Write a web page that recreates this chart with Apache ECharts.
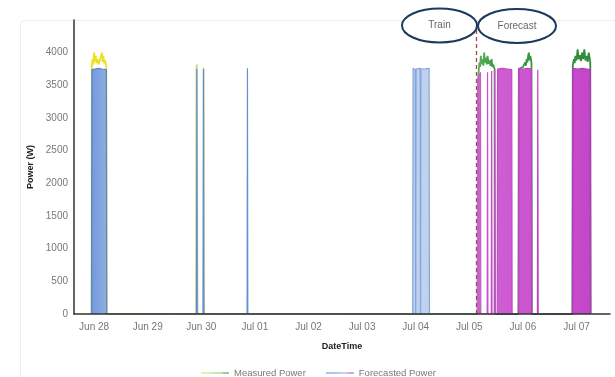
<!DOCTYPE html>
<html>
<head>
<meta charset="utf-8">
<script src="https://cdn.jsdelivr.net/npm/echarts@6/dist/echarts.min.js"></script>
<style>
  html, body { margin: 0; padding: 0; background: #fff; }
  #chart { width: 615px; height: 377px; }
</style>
</head>
<body>
<div id="chart"></div>
<script>
// Measured PV power (W), sampled at irregular timestamps
const measuredPower = [
  ['2023-06-27 22:50', 0], ['2023-06-27 23:00', 3800], ['2023-06-27 23:20', 3900],
  ['2023-06-27 23:40', 3820], ['2023-06-28 00:00', 4000], ['2023-06-28 00:20', 3870],
  ['2023-06-28 00:40', 3950], ['2023-06-28 01:00', 3840], ['2023-06-28 01:30', 3900],
  ['2023-06-28 02:00', 3820], ['2023-06-28 02:30', 3880], ['2023-06-28 03:00', 3850],
  ['2023-06-28 03:30', 4000], ['2023-06-28 03:50', 3860], ['2023-06-28 04:10', 3950],
  ['2023-06-28 04:30', 3840], ['2023-06-28 05:00', 3880], ['2023-06-28 05:30', 3780],
  ['2023-06-28 05:40', 0],
  ['2023-06-29 21:40', 0], ['2023-06-29 21:50', 3780], ['2023-06-29 22:00', 3820],
  ['2023-06-29 22:10', 3790], ['2023-06-29 22:20', 0],
  ['2023-06-30 00:50', 0], ['2023-06-30 01:00', 3770], ['2023-06-30 01:10', 0],
  ['2023-07-05 03:40', 0], ['2023-07-05 03:50', 3550], ['2023-07-05 04:10', 3700],
  ['2023-07-05 04:30', 3850], ['2023-07-05 04:50', 3780], ['2023-07-05 05:10', 3950],
  ['2023-07-05 05:30', 3820], ['2023-07-05 06:00', 3900], ['2023-07-05 06:20', 3800],
  ['2023-07-05 06:40', 4000], ['2023-07-05 07:00', 3850], ['2023-07-05 07:30', 3920],
  ['2023-07-05 07:50', 3820], ['2023-07-05 08:10', 3950], ['2023-07-05 08:40', 3830],
  ['2023-07-05 09:00', 3880], ['2023-07-05 09:30', 3800], ['2023-07-05 10:00', 3900],
  ['2023-07-05 10:20', 3780], ['2023-07-05 10:40', 3820], ['2023-07-05 11:20', 3750],
  ['2023-07-05 11:30', 0],
  ['2023-07-05 22:00', 0], ['2023-07-05 22:10', 3750], ['2023-07-06 00:00', 3780],
  ['2023-07-06 00:30', 3800], ['2023-07-06 01:00', 3850], ['2023-07-06 01:20', 3800],
  ['2023-07-06 01:40', 3900], ['2023-07-06 02:00', 3850], ['2023-07-06 02:20', 3950],
  ['2023-07-06 02:40', 4000], ['2023-07-06 03:00', 3880], ['2023-07-06 03:20', 3950],
  ['2023-07-06 03:50', 3850], ['2023-07-06 04:00', 0],
  ['2023-07-06 22:10', 0], ['2023-07-06 22:20', 3800], ['2023-07-06 22:50', 3900],
  ['2023-07-06 23:10', 3840], ['2023-07-06 23:30', 3950], ['2023-07-07 00:00', 3880],
  ['2023-07-07 00:30', 4050], ['2023-07-07 01:00', 3900], ['2023-07-07 01:30', 3960],
  ['2023-07-07 02:00', 3870], ['2023-07-07 02:30', 4000], ['2023-07-07 03:00', 3900],
  ['2023-07-07 03:30', 4050], ['2023-07-07 04:00', 3880], ['2023-07-07 04:30', 3950],
  ['2023-07-07 05:00', 3860], ['2023-07-07 05:30', 4000], ['2023-07-07 06:10', 3850],
  ['2023-07-07 06:20', 0]
];

// Model output (W): fitted over the training window, forecast after the split
const forecastPower = [
  ['2023-06-27 22:50', 0], ['2023-06-27 23:00', 3740], ['2023-06-28 00:30', 3750],
  ['2023-06-28 02:00', 3760], ['2023-06-28 03:30', 3750], ['2023-06-28 05:30', 3740],
  ['2023-06-28 05:40', 0],
  ['2023-06-29 21:50', 0], ['2023-06-29 22:00', 3750], ['2023-06-29 22:10', 0],
  ['2023-06-30 00:50', 0], ['2023-06-30 01:00', 3750], ['2023-06-30 01:10', 0],
  ['2023-06-30 20:30', 0], ['2023-06-30 20:40', 3760], ['2023-06-30 20:50', 0],
  ['2023-07-03 22:40', 0], ['2023-07-03 22:50', 3760], ['2023-07-03 23:50', 3740],
  ['2023-07-04 00:00', 0], ['2023-07-04 00:10', 3750], ['2023-07-04 02:00', 3760],
  ['2023-07-04 02:10', 0], ['2023-07-04 02:20', 3750], ['2023-07-04 04:00', 3750],
  ['2023-07-04 06:00', 3760], ['2023-07-04 06:10', 0],
  ['2023-07-05 03:40', 0], ['2023-07-05 03:50', 3600], ['2023-07-05 05:00', 3700],
  ['2023-07-05 05:10', 0],
  ['2023-07-05 08:00', 0], ['2023-07-05 08:10', 3700], ['2023-07-05 08:20', 0],
  ['2023-07-05 09:50', 0], ['2023-07-05 10:00', 3720], ['2023-07-05 10:10', 0],
  ['2023-07-05 11:10', 0], ['2023-07-05 11:20', 3740], ['2023-07-05 11:30', 0],
  ['2023-07-05 12:30', 0], ['2023-07-05 12:40', 3750], ['2023-07-05 15:00', 3760],
  ['2023-07-05 17:00', 3750], ['2023-07-05 19:00', 3740], ['2023-07-05 19:10', 0],
  ['2023-07-05 22:00', 0], ['2023-07-05 22:10', 3760], ['2023-07-06 00:00', 3750],
  ['2023-07-06 02:00', 3760], ['2023-07-06 03:50', 3750], ['2023-07-06 04:00', 0],
  ['2023-07-06 06:30', 0], ['2023-07-06 06:40', 3740], ['2023-07-06 06:50', 0],
  ['2023-07-06 22:10', 0], ['2023-07-06 22:20', 3760], ['2023-07-07 00:30', 3750],
  ['2023-07-07 02:30', 3760], ['2023-07-07 04:30', 3750], ['2023-07-07 06:10', 3740],
  ['2023-07-07 06:20', 0]
];

// Train / forecast split
const splitTime = '2023-07-05 03:00';

const axisStart = '2023-06-27 15:00';
const axisEnd = '2023-07-07 15:00';
const monthNames = ['Jan','Feb','Mar','Apr','May','Jun','Jul','Aug','Sep','Oct','Nov','Dec'];
const DAY = 24 * 3600 * 1000;

const chart = echarts.init(document.getElementById('chart'), null, { renderer: 'canvas' });
const G = echarts.graphic.LinearGradient;

const measuredLine = new G(0, 0, 1, 0, [
  { offset: 0, color: '#f0e010' },
  { offset: 0.04, color: '#eadf30' },
  { offset: 0.2, color: '#d2d68a' },
  { offset: 0.74, color: '#7cc46a' },
  { offset: 0.8, color: '#3d9d45' },
  { offset: 1, color: '#2f8a3a' }
]);
const forecastLine = new G(0, 0, 1, 0, [
  { offset: 0, color: '#5585d4' },
  { offset: 0.35, color: '#6590d6' },
  { offset: 0.62, color: '#7ea4da' },
  { offset: 0.76, color: '#8da8dc' },
  { offset: 0.775, color: '#c060cc' },
  { offset: 0.8, color: '#c648c8' },
  { offset: 1, color: '#b636c0' }
]);
const forecastArea = new G(0, 0, 1, 0, [
  { offset: 0, color: 'rgba(88,136,216,0.85)' },
  { offset: 0.05, color: 'rgba(100,140,214,0.6)' },
  { offset: 0.6, color: 'rgba(130,168,224,0.55)' },
  { offset: 0.76, color: 'rgba(140,170,224,0.5)' },
  { offset: 0.775, color: 'rgba(200,70,205,0.85)' },
  { offset: 1, color: 'rgba(190,50,195,0.9)' }
]);

const FONT = 'Liberation Sans, Arial, sans-serif';
const labelFont = { fontFamily: FONT, fontSize: 10, color: '#777' };

chart.setOption({
  animation: false,
  backgroundColor: '#ffffff',
  grid: { left: 74, right: 5, top: 20, bottom: 63 },
  legend: {
    left: 196,
    top: 363,
    itemWidth: 28,
    itemHeight: 8,
    itemGap: 20,
    icon: 'path://M0,4 L28,4 L28,5 L0,5 Z',
    textStyle: { fontFamily: FONT, fontSize: 9.5, color: '#777' },
    data: [
      { name: 'Measured Power', itemStyle: { color: measuredLine } },
      { name: 'Forecasted Power', itemStyle: { color: forecastLine } }
    ]
  },
  xAxis: {
    type: 'time',
    min: axisStart,
    max: axisEnd,
    minInterval: DAY,
    maxInterval: DAY,
    z: 5,
    name: 'DateTime',
    nameLocation: 'middle',
    nameGap: 28,
    nameTextStyle: { fontFamily: FONT, fontSize: 9, fontWeight: 'bold', color: '#222' },
    axisLine: { show: true, lineStyle: { color: '#333', width: 1.5 } },
    axisTick: { show: false },
    splitLine: { show: false },
    axisLabel: Object.assign({}, labelFont, {
      margin: 8,
      hideOverlap: false,
      formatter: function (val) {
        const d = new Date(val);
        const dd = d.getDate();
        return monthNames[d.getMonth()] + ' ' + (dd < 10 ? '0' + dd : dd);
      }
    })
  },
  yAxis: {
    type: 'value',
    min: 0,
    max: 4500,
    interval: 500,
    name: 'Power (W)',
    nameLocation: 'middle',
    nameRotate: 90,
    nameGap: 37,
    nameTextStyle: { fontFamily: FONT, fontSize: 9, fontWeight: 'bold', color: '#222' },
    axisLine: { show: true, lineStyle: { color: '#333', width: 1.5 } },
    axisTick: { show: false },
    splitLine: { show: false },
    axisLabel: Object.assign({}, labelFont, {
      margin: 6,
      showMaxLabel: false,
      formatter: function (v) { return v === 4500 ? '' : String(v); }
    })
  },
  series: [
    {
      name: 'Measured Power',
      type: 'line',
      z: 2,
      data: measuredPower,
      showSymbol: false,
      symbol: 'none',
      lineStyle: { width: 1.8, color: measuredLine },
      itemStyle: { color: measuredLine }
    },
    {
      name: 'Forecasted Power',
      type: 'line',
      z: 3,
      data: forecastPower,
      showSymbol: false,
      symbol: 'none',
      lineStyle: { width: 1.2, color: forecastLine },
      itemStyle: { color: forecastLine },
      areaStyle: { color: forecastArea, opacity: 1 },
      markLine: {
        silent: true,
        symbol: 'none',
        label: { show: false },
        lineStyle: { color: '#b8404c', type: [4, 3], width: 1.3 },
        data: [{ xAxis: splitTime }]
      }
    }
  ],
  graphic: [
    {
      type: 'rect', silent: true, z: -1,
      shape: { x: 20.5, y: 20.5, width: 620, height: 380, r: 4 },
      style: { fill: 'none', stroke: '#eeeeee', lineWidth: 1 }
    },
    {
      type: 'ellipse', z: 10,
      shape: { cx: 439.5, cy: 25.5, rx: 37.5, ry: 17 },
      style: { fill: '#ffffff', stroke: '#1b3a5c', lineWidth: 2 }
    },
    {
      type: 'text', z: 11, x: 439.5, y: 25.5,
      style: { text: 'Train', fill: '#666', font: '10px Liberation Sans, Arial, sans-serif', align: 'center', verticalAlign: 'middle' }
    },
    {
      type: 'ellipse', z: 10,
      shape: { cx: 517, cy: 26, rx: 39, ry: 17 },
      style: { fill: '#ffffff', stroke: '#1b3a5c', lineWidth: 2 }
    },
    {
      type: 'text', z: 11, x: 517, y: 26,
      style: { text: 'Forecast', fill: '#666', font: '10px Liberation Sans, Arial, sans-serif', align: 'center', verticalAlign: 'middle' }
    }
  ]
});
</script>
</body>
</html>
